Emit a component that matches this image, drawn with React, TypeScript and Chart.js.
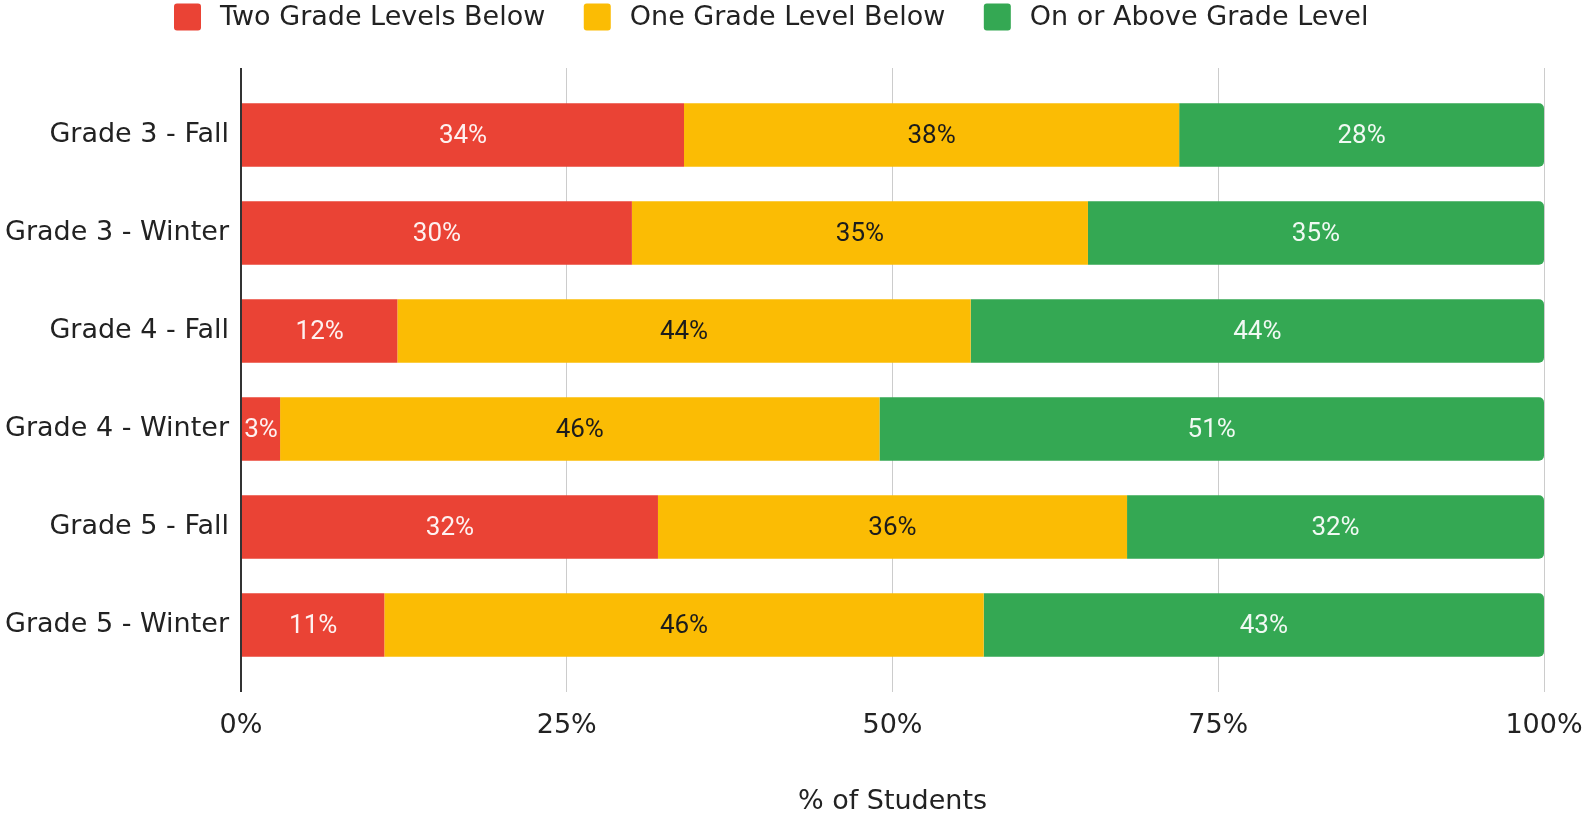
import React, { useEffect, useRef } from 'react';
import { Chart, registerables } from 'chart.js';

Chart.register(...registerables);

const categories = [
  'Grade 3 - Fall',
  'Grade 3 - Winter',
  'Grade 4 - Fall',
  'Grade 4 - Winter',
  'Grade 5 - Fall',
  'Grade 5 - Winter',
];
const seriesNames = ['Two Grade Levels Below', 'One Grade Level Below', 'On or Above Grade Level'];
const twoBelow = [34, 30, 12, 3, 32, 11];
const oneBelow = [38, 35, 44, 46, 36, 46];
const onOrAbove = [28, 35, 44, 51, 32, 43];
const xTickValues = [0, 25, 50, 75, 100];
const xTitle = '% of Students';

const seriesColors = ['#EA4335', '#FBBC04', '#34A853'];
const labelColors = ['rgba(255,255,255,0.93)', '#1c1c1c', 'rgba(255,255,255,0.93)'];

const AXIS_FONT = 'DejaVu Sans';
const TEXT_COLOR = '#222222';

const gridExtendPlugin = {
  id: 'gridExtend',
  afterDraw(chart: any, _args: any, opts: any) {
    const { ctx, chartArea, scales } = chart;
    const x = scales.x;
    ctx.save();
    x.ticks.forEach((t: any) => {
      const isZero = t.value === 0;
      const lw = isZero ? 2 : 1;
      const raw = x.getPixelForValue(t.value);
      const px = lw % 2 === 1 ? Math.round(raw - 0.5) + 0.5 : Math.round(raw);
      ctx.beginPath();
      ctx.strokeStyle = isZero ? '#333333' : '#cccccc';
      ctx.lineWidth = lw;
      ctx.moveTo(px, chartArea.top - opts.length);
      ctx.lineTo(px, chartArea.top);
      ctx.stroke();
    });
    ctx.restore();
  },
};

const barLabelPlugin = {
  id: 'barLabels',
  afterDatasetsDraw(chart: any) {
    const { ctx } = chart;
    ctx.save();
    ctx.font = '26px Roboto';
    ctx.textAlign = 'center';
    ctx.textBaseline = 'middle';
    chart.data.datasets.forEach((ds: any, di: number) => {
      const meta = chart.getDatasetMeta(di);
      meta.data.forEach((bar: any, i: number) => {
        const v = ds.data[i];
        const { x, y, base } = bar.getProps(['x', 'y', 'base'], true);
        ctx.fillStyle = labelColors[di];
        ctx.fillText(v + '%', (x + base) / 2, y + 1);
      });
    });
    ctx.restore();
  },
};

const legendPlugin = {
  id: 'customLegend',
  afterDraw(chart: any, _args: any, opts: any) {
    const { ctx } = chart;
    ctx.save();
    ctx.font = `27px "${AXIS_FONT}"`;
    ctx.textBaseline = 'middle';
    ctx.textAlign = 'left';
    let x = opts.left;
    const cy = opts.centerY;
    const box = opts.box;
    chart.data.datasets.forEach((ds: any) => {
      ctx.fillStyle = ds.backgroundColor;
      ctx.beginPath();
      if (ctx.roundRect) ctx.roundRect(x, cy - box / 2, box, box, 3);
      else ctx.rect(x, cy - box / 2, box, box);
      ctx.fill();
      x += box + opts.boxGap;
      ctx.fillStyle = TEXT_COLOR;
      ctx.fillText(ds.label, x, cy + 1);
      x += ctx.measureText(ds.label).width + opts.itemGap;
    });
    ctx.restore();
  },
};

export default function App() {
  const canvasRef = useRef<HTMLCanvasElement | null>(null);

  useEffect(() => {
    const canvas = canvasRef.current;
    if (!canvas) return;
    const seriesValues = [twoBelow, oneBelow, onOrAbove];
    const chart = new Chart(canvas, {
      type: 'bar',
      data: {
        labels: categories,
        datasets: seriesNames.map((name, i) => ({
          label: name,
          data: seriesValues[i],
          backgroundColor: seriesColors[i],
          borderWidth: 0,
          borderRadius: i === 2 ? 5 : 0,
          borderSkipped: 'start',
          categoryPercentage: 1,
          barPercentage: 0.647,
        })),
      },
      options: {
        indexAxis: 'y',
        responsive: false,
        animation: false,
        devicePixelRatio: 1,
        layout: { padding: { top: 86, right: 39, bottom: 0, left: 0 } },
        plugins: {
          legend: { display: false },
          tooltip: { enabled: false },
          gridExtend: { length: 18 },
          customLegend: { left: 174, centerY: 17, box: 27, boxGap: 19, itemGap: 38.5 },
        } as any,
        scales: {
          x: {
            type: 'linear',
            stacked: true,
            min: 0,
            max: 100,
            afterBuildTicks: (s: any) => {
              s.ticks = xTickValues.map((v) => ({ value: v }));
            },
            afterFit: (s: any) => {
              s.height = 141;
              s.paddingLeft = 0;
              s.paddingRight = 0;
            },
            border: { display: false },
            grid: {
              color: (c: any) => (c.tick && c.tick.value === 0 ? '#333333' : '#cccccc'),
              lineWidth: (c: any) => (c.tick && c.tick.value === 0 ? 2 : 1),
              tickLength: 18,
              drawTicks: true,
            },
            ticks: {
              padding: 18,
              color: TEXT_COLOR,
              font: { family: AXIS_FONT, size: 27 },
              maxRotation: 0,
              callback: (v: any) => v + '%',
            },
            title: {
              display: true,
              text: xTitle,
              color: TEXT_COLOR,
              font: { family: AXIS_FONT, size: 27, lineHeight: 1 },
              padding: { top: 0, bottom: 0 },
            },
          },
          y: {
            type: 'category',
            stacked: true,
            offset: true,
            afterFit: (s: any) => {
              s.width = 241;
              s.paddingTop = 0;
              s.paddingBottom = 0;
            },
            border: { display: false },
            grid: { display: false, drawTicks: false },
            ticks: {
              padding: 12,
              color: TEXT_COLOR,
              font: { family: AXIS_FONT, size: 27 },
            },
          },
        },
      },
      plugins: [gridExtendPlugin, barLabelPlugin, legendPlugin],
    } as any);
    return () => chart.destroy();
  }, []);

  return (
    <div style={{ position: 'fixed', left: 0, top: 0, width: 1583, height: 815, background: '#ffffff' }}>
      <canvas ref={canvasRef} width={1583} height={815} style={{ display: 'block' }} />
    </div>
  );
}
